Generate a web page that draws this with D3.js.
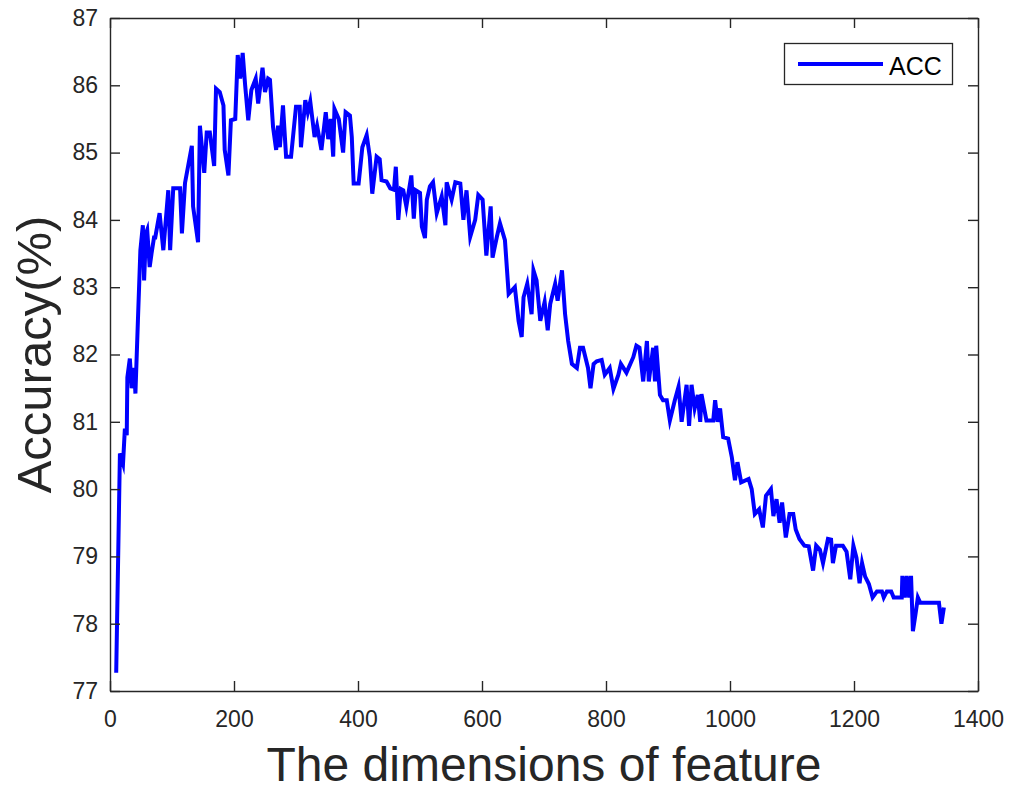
<!DOCTYPE html>
<html>
<head>
<meta charset="utf-8">
<script src="https://cdn.jsdelivr.net/npm/d3@7"></script>
<style>
  html, body { margin: 0; padding: 0; background: #fff; }
  svg { display: block; font-family: "Liberation Sans", Arial, Helvetica, sans-serif; }
</style>
</head>
<body>
<svg id="chart" width="1023" height="788"></svg>
<script>
const dims = [10,16,21,24,27,28,32,35,39,41,45,49,53,55,58,60,64,67,71,73,78,80,86,94,97,102,113,116,121,132,134,142,145,152,156,161,168,171,177,183,185,191,195,202,206,210,214,218,223,228,235,239,246,250,255,258,263,268,271,274,279,284,292,300,306,308,315,319,323,330,334,341,348,352,356,360,362,369,376,380,387,390,393,401,407,414,419,423,430,435,438,446,452,458,461,465,469,473,478,486,490,493,500,503,508,511,516,521,527,535,541,543,551,557,565,570,575,581,589,594,601,607,614,617,624,629,637,643,653,659,664,667,673,680,683,688,694,701,706,710,718,722,729,734,739,745,753,758,763,771,775,780,785,793,798,806,812,820,824,833,844,849,854,860,866,869,876,879,881,887,892,898,903,911,917,922,930,934,938,943,948,952,954,962,973,976,980,984,989,997,1003,1008,1012,1018,1030,1035,1040,1047,1053,1058,1066,1070,1075,1080,1084,1090,1096,1102,1106,1112,1120,1127,1134,1139,1145,1150,1158,1163,1166,1171,1182,1188,1194,1199,1204,1209,1213,1218,1224,1230,1237,1245,1248,1253,1260,1264,1277,1278,1282,1285,1289,1292,1295,1299,1303,1307,1337,1341,1345];
const acc = [77.27,80.53,80.38,80.9,80.8,81.66,81.94,81.5,81.8,81.42,82.5,83.55,83.92,83.1,83.8,83.85,83.3,83.5,83.74,83.74,84.0,84.1,83.55,84.44,83.55,84.47,84.47,83.8,84.55,85.1,84.2,83.67,85.4,84.7,85.3,85.3,84.8,85.95,85.9,85.7,85.04,84.66,85.48,85.5,86.45,86.1,86.48,86.0,85.48,85.93,86.1,85.73,86.26,85.9,86.1,86.08,85.38,85.04,85.4,85.08,85.7,84.94,84.94,85.68,85.68,85.08,85.78,85.6,85.76,85.23,85.4,85.04,85.6,85.2,85.5,84.94,85.65,85.5,85.0,85.6,85.55,85.23,84.54,84.54,85.08,85.26,84.94,84.39,84.94,84.9,84.59,84.57,84.47,84.45,84.79,84.0,84.46,84.44,84.2,84.66,84.02,84.44,84.4,83.9,83.73,84.3,84.5,84.56,84.1,84.35,83.92,84.56,84.3,84.56,84.54,84.0,84.44,83.75,84.0,84.37,84.3,83.47,84.2,83.44,83.75,83.95,83.7,82.9,83.0,82.5,82.26,82.85,83.05,82.6,83.25,83.1,82.5,82.78,82.36,82.75,83.05,82.8,83.25,82.6,82.2,81.86,81.8,82.1,82.1,81.8,81.5,81.86,81.9,81.92,81.7,81.8,81.49,81.7,81.86,81.73,81.96,82.13,82.1,81.6,82.2,81.6,82.1,81.6,82.13,81.4,81.32,81.32,81.02,81.32,81.52,81.0,81.55,80.94,81.55,81.2,81.4,81.0,81.41,81.02,81.02,81.32,81.0,81.2,80.77,80.75,80.47,80.13,80.4,80.1,80.15,80.0,79.63,79.7,79.43,79.9,80.0,79.6,79.85,79.5,79.8,79.28,79.63,79.63,79.4,79.26,79.16,79.15,78.79,79.16,79.1,78.9,79.26,79.25,78.9,79.16,79.16,79.07,78.66,79.16,78.98,78.6,78.9,78.7,78.59,78.39,78.48,78.48,78.39,78.48,78.48,78.39,78.39,78.71,78.39,78.71,78.39,78.71,77.89,78.13,78.39,78.31,78.31,78.0,78.24];
const xTicks = [0,200,400,600,800,1000,1200,1400];
const yTicks = [77,78,79,80,81,82,83,84,85,86,87];
const seriesName = "ACC";
const xLabel = "The dimensions of feature";
const yLabel = "Accuracy(%)";

const L = 110, R = 978, T = 18, B = 691;
const axisColor = "#262626";
const svg = d3.select("#chart");
const x = d3.scaleLinear().domain([0, 1400]).range([L, R]);
const y = d3.scaleLinear().domain([77, 87]).range([B, T]);

// data line
const data = dims.map((d, i) => [d, acc[i]]);
svg.append("path")
  .datum(data)
  .attr("fill", "none")
  .attr("stroke", "#0000ff")
  .attr("stroke-width", 4)
  .attr("stroke-linejoin", "miter")
  .attr("stroke-miterlimit", 6)
  .attr("d", d3.line().x(d => x(d[0])).y(d => y(d[1])));

const tickLen = 10;
const fmt = d3.format("d");
const gx = svg.append("g").attr("transform", `translate(0,${B})`)
  .call(d3.axisBottom(x).tickValues(xTicks).tickSizeInner(-tickLen).tickSizeOuter(0).tickPadding(20).tickFormat(fmt));
const gxt = svg.append("g").attr("transform", `translate(0,${T})`)
  .call(d3.axisTop(x).tickValues(xTicks).tickSizeInner(-tickLen).tickSizeOuter(0).tickFormat(""));
const gy = svg.append("g").attr("transform", `translate(${L},0)`)
  .call(d3.axisLeft(y).tickValues(yTicks).tickSizeInner(-tickLen).tickSizeOuter(0).tickPadding(12).tickFormat(fmt));
const gyr = svg.append("g").attr("transform", `translate(${R},0)`)
  .call(d3.axisRight(y).tickValues(yTicks).tickSizeInner(-tickLen).tickSizeOuter(0).tickFormat(""));

[gx, gxt, gy, gyr].forEach(g => {
  g.selectAll(".domain").attr("stroke", axisColor).attr("stroke-width", 1.4);
  g.selectAll(".tick line").attr("stroke", axisColor).attr("stroke-width", 1.4);
  g.selectAll(".tick text").attr("fill", axisColor).style("font-size", "23px")
    .style("font-family", "'Liberation Sans', Arial, sans-serif");
});

// axis labels
svg.append("text")
  .attr("x", (L + R) / 2).attr("y", 781)
  .attr("text-anchor", "middle")
  .attr("fill", axisColor)
  .style("font-size", "48px")
  .text(xLabel);
svg.append("text")
  .attr("transform", `translate(51,${(T + B) / 2}) rotate(-90)`)
  .attr("text-anchor", "middle")
  .attr("fill", axisColor)
  .style("font-size", "49px")
  .text(yLabel);

// legend
const lg = svg.append("g");
lg.append("rect").attr("x", 784.5).attr("y", 43.5).attr("width", 168).attr("height", 41)
  .attr("fill", "#fff").attr("stroke", axisColor).attr("stroke-width", 1.3);
lg.append("line").attr("x1", 798).attr("x2", 883).attr("y1", 64).attr("y2", 64)
  .attr("stroke", "#0000ff").attr("stroke-width", 4);
lg.append("text").attr("x", 889).attr("y", 74.5)
  .attr("fill", "#000").style("font-size", "25px").text(seriesName);
</script>
</body>
</html>
